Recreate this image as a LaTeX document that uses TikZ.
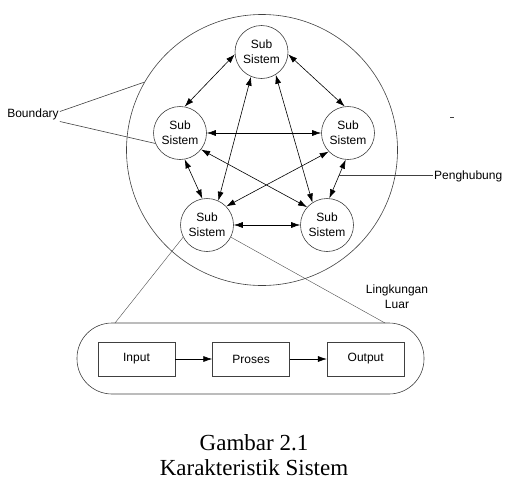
\documentclass[tikz,border=0pt]{standalone}
\usepackage{fontspec}
\setmainfont{Liberation Serif}
\newfontfamily\arialfont{Liberation Sans}
\usetikzlibrary{arrows.meta,positioning}

\tikzset{
    subsys/.style={draw=black!75,line width=0.6pt,circle,minimum size=53pt,inner sep=0pt,align=center,font=\arialfont\fontsize{12}{15}\selectfont},
    blok/.style={draw=black!75,line width=0.6pt,rectangle,minimum width=77pt,minimum height=34pt,font=\arialfont\fontsize{12}{15}\selectfont},
    tulisan/.style={inner sep=1pt,align=center,font=\arialfont\fontsize{12}{15}\selectfont},
    panah/.style={{Latex[length=9pt,width=6pt]}-{Latex[length=9pt,width=6pt]},line width=0.6pt},
    garis/.style={draw=black!75,line width=0.6pt},
    tipis/.style={draw=black!70,line width=0.4pt}
}

\begin{document}
\begin{tikzpicture}[x=1pt,y=-1pt]
                \useasboundingbox (0,0) rectangle (510,482);
                \coordinate (P) at (262,150);
                \coordinate (S1) at (261.5,52);
                \coordinate (S2) at (180,133);
                \coordinate (S3) at (348,133);
                \coordinate (S4) at (207,225);
                \coordinate (S5) at (327,225);
                \coordinate (Z1) at (115,323);
                \coordinate (Z2) at (385,323);
                \node [garis,circle,minimum size=271pt] (lingkup) at (P) {};
                \node [subsys] (sub1) at (S1) {Sub\\Sistem};
                \node [subsys] (sub2) at (S2) {Sub\\Sistem};
                \node [subsys] (sub3) at (S3) {Sub\\Sistem};
                \node [subsys] (sub4) at (S4) {Sub\\Sistem};
                \node [subsys] (sub5) at (S5) {Sub\\Sistem};
                \draw [panah] (sub1.185) -- (sub2.80);
                \draw [panah] (sub1.355) -- (sub3.97);
                \draw [panah] (sub1.247) -- (sub4.65);
                \draw [panah] (sub1.302) -- (sub5.123);
                \draw [panah] (sub2.0) -- (sub3.180);
                \draw [panah] (sub2.322) -- (sub5.138);
                \draw [panah] (sub3.224) -- (sub4.44);
                \draw [panah] (sub2.280) -- (sub4.100);
                \draw [panah] (sub3.265) -- coordinate[pos=0.4] (hub) (sub5.85);
                \draw [panah] (sub4.0) -- (sub5.180);
                \node [tulisan] (boundary) at (33,114.5) {Boundary};
                \draw [garis] ([yshift=3pt]boundary.east) -- (lingkup.150);
                \draw [garis] ([yshift=-7pt]boundary.east) -- (sub2.203);
                \node [tulisan,anchor=west] (penghubung) at (433,176) {Penghubung};
                \draw [garis] (hub) -- (hub -| penghubung.west);
                \draw [garis] (450,117) -- (454,117);
                \node [tulisan] (luar) at (397,297) {Lingkungan\\Luar};
                \node [garis,rounded corners=35pt,minimum width=347pt,minimum height=71pt] (proses luar) at (250.5,358.5) {};
                \node [blok] (input) at (136.5,359) {Input};
                \node [blok,right=37pt of input] (proses) {Proses};
                \node [blok,right=37pt of proses] (output) {Output};
                \draw [-{Latex[length=9pt,width=6pt]},line width=0.6pt] (input) -- (proses);
                \draw [-{Latex[length=9pt,width=6pt]},line width=0.6pt] (proses) -- (output);
                \draw [tipis] (sub4.207) -- (Z1);
                \draw [tipis] (sub4.333) -- (Z2);
                \node [font=\fontsize{23}{24.5}\selectfont,align=center] (judul) at (254,455) {Gambar 2.1\\Karakteristik Sistem};
            \end{tikzpicture}
\end{document}
